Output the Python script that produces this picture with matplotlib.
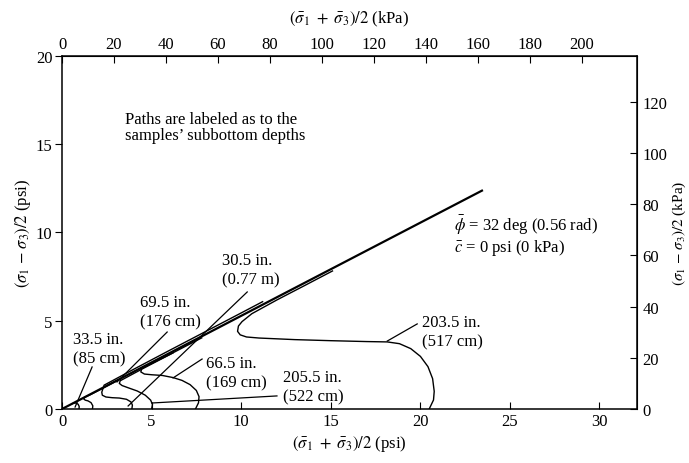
import numpy as np
import matplotlib
matplotlib.use("Agg")
import matplotlib.pyplot as plt

plt.rcParams['font.family'] = ['Liberation Serif', 'DejaVu Serif']
plt.rcParams['font.size'] = 12
plt.rcParams['mathtext.fontset'] = 'stix'

KPA_PER_PSI = 6.895

# failure envelope, phi = 32 deg, c = 0
env_p = [0.0, 23.5]
env_q = [0.0, 12.4]

# stress paths (p, q) in psi, labeled by subbottom depth
p_335 = [0.95, 0.96, 0.9, 0.78, 0.66, 0.6]
q_335 = [0.0, 0.14, 0.27, 0.34, 0.33, 0.31]

p_695 = [1.7, 1.72, 1.62, 1.45, 1.3, 1.22, 1.25, 1.6, 2.4, 3.3]
q_695 = [0.0, 0.18, 0.36, 0.46, 0.5, 0.56, 0.66, 0.82, 1.24, 1.72]

p_305 = [3.9, 3.93, 3.85, 3.6, 3.2, 2.8, 2.45, 2.25, 2.22, 2.35, 4.0, 6.0, 8.0, 10.0, 11.2]
q_305 = [0.0, 0.22, 0.4, 0.55, 0.62, 0.64, 0.68, 0.78, 0.95, 1.35, 2.25, 3.32, 4.38, 5.44, 6.08]

p_2055 = [5.0, 5.05, 4.95, 4.65, 4.2, 3.7, 3.35, 3.2, 3.25, 4.5, 6.2]
q_2055 = [0.0, 0.25, 0.5, 0.78, 1.02, 1.2, 1.33, 1.45, 1.6, 2.28, 3.18]

p_665 = [7.45, 7.62, 7.65, 7.5, 7.15, 6.7, 6.2, 5.6, 5.0, 4.6, 4.4, 4.45, 6.0, 7.8]
q_665 = [0.0, 0.35, 0.7, 1.05, 1.38, 1.62, 1.78, 1.9, 1.94, 1.98, 2.1, 2.3, 3.08, 4.03]

p_2035 = [20.5, 20.74, 20.78, 20.69, 20.43, 20.01, 19.47, 18.84, 18.16, 17.0, 15.0, 13.0,
          11.0, 10.3, 9.95, 9.8, 9.85, 10.05, 10.6, 12.0, 13.5, 15.1]
q_2035 = [0.0, 0.51, 1.0, 1.72, 2.4, 2.98, 3.42, 3.70, 3.80, 3.82, 3.87, 3.93,
          4.02, 4.08, 4.2, 4.4, 4.7, 4.95, 5.4, 6.18, 6.97, 7.82]

# label text, text anchor (p, q), leader from -> to
labels = ["33.5 in.\n(85 cm)", "69.5 in.\n(176 cm)", "30.5 in.\n(0.77 m)",
          "66.5 in.\n(169 cm)", "205.5 in.\n(522 cm)", "203.5 in.\n(517 cm)"]
label_p = [0.6, 4.35, 8.95, 8.05, 12.35, 20.1]
label_q = [3.4, 5.5, 7.88, 2.04, 1.27, 4.36]
lead_p0 = [1.68, 5.87, 10.34, 7.82, 12.0, 19.83]
lead_q0 = [2.38, 4.36, 6.63, 2.83, 0.74, 4.82]
lead_p1 = [0.73, 3.07, 3.69, 6.2, 5.03, 18.16]
lead_q1 = [0.11, 1.53, 0.17, 1.76, 0.34, 3.85]

fig = plt.figure(figsize=(6.89, 4.64), dpi=100)
ax = fig.add_axes([0.09, 0.1164, 0.8345, 0.7608])

ax.plot(env_p, env_q, color='black', lw=1.6, solid_capstyle='butt')
for p, q in [(p_335, q_335), (p_695, q_695), (p_305, q_305),
             (p_2055, q_2055), (p_665, q_665), (p_2035, q_2035)]:
    ax.plot(p, q, color='black', lw=1.0)

for i in range(len(labels)):
    ax.plot([lead_p0[i], lead_p1[i]], [lead_q0[i], lead_q1[i]], color='black', lw=0.9)
    ax.text(label_p[i], label_q[i], labels[i], ha='left', va='center',
            linespacing=1.3)

ax.text(3.52, 15.98, "Paths are labeled as to the\nsamples\u2019 subbottom depths",
        ha='left', va='center', linespacing=1.05)
ax.text(21.9, 9.86, "$\\bar{\\phi}$ = 32 deg (0.56 rad)\n$\\bar{c}$ = 0 psi (0 kPa)",
        ha='left', va='center', linespacing=1.05)

ax.set_xlim(0, 32.1)
ax.set_ylim(0, 20)
ax.set_xticks([0, 5, 10, 15, 20, 25, 30])
ax.set_yticks([0, 5, 10, 15, 20])
ax.tick_params(axis='x', direction='in', length=5, pad=3)
ax.tick_params(axis='y', direction='out', length=5, pad=2)
ax.set_xlabel(r'$(\bar{\sigma}_1\ +\ \bar{\sigma}_3)/2$ (psi)', labelpad=3)
ax.set_ylabel(r'$(\sigma_1\ \mathrm{-}\ \sigma_3)/2$ (psi)', labelpad=2)

top = ax.secondary_xaxis('top', functions=(lambda x: x * KPA_PER_PSI,
                                            lambda x: x / KPA_PER_PSI))
top.set_xticks(np.arange(0, 201, 20))
top.tick_params(direction='in', length=5, pad=3)
top.set_xlabel(r'$(\bar{\sigma}_1\ +\ \bar{\sigma}_3)/2$ (kPa)', labelpad=10)

right = ax.secondary_yaxis('right', functions=(lambda y: y * KPA_PER_PSI,
                                               lambda y: y / KPA_PER_PSI))
right.set_yticks(np.arange(0, 121, 20))
right.tick_params(direction='in', length=5, pad=4)
right.set_ylabel(r'$(\sigma_1\ \mathrm{-}\ \sigma_3)/2$ (kPa)', labelpad=2, fontsize=11)

for s in ax.spines.values():
    s.set_linewidth(1.1)

fig.savefig('out.png', dpi=100)
